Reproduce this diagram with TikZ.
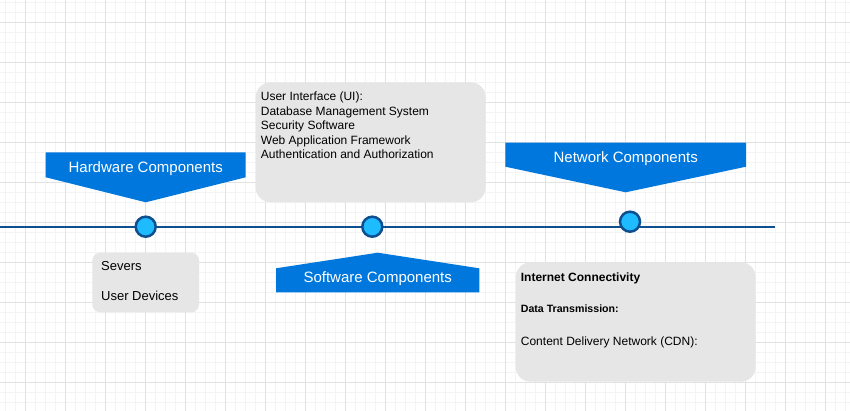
\documentclass[tikz,border=0pt]{standalone}
\usepackage{fontspec}
\setmainfont{Liberation Sans}
\definecolor{gridmajor}{HTML}{E2E2E2}
\definecolor{gridminor}{HTML}{F4F4F4}
\definecolor{lineblue}{HTML}{0F4F8F}
\definecolor{dotfill}{HTML}{1EBBFF}
\definecolor{calloutblue}{HTML}{0077DD}
\definecolor{boxgrey}{HTML}{E6E6E6}
\tikzset{
  minorline/.style={gridminor,line width=0.8pt},
  majorline/.style={gridmajor,line width=0.9pt},
  timeline/.style={lineblue,line width=2pt},
  dot/.style={circle,fill=dotfill,draw=lineblue,line width=2.5pt,minimum size=20pt,inner sep=0pt},
  callout/.style={fill=calloutblue},
  callouttext/.style={text=white,font=\fontsize{15}{18}\selectfont,inner sep=0pt,anchor=base},
  greybox/.style={fill=boxgrey,draw=none,inner sep=0pt},
  itemtext/.style={inner sep=0pt,anchor=base west,text=black},
}
\begin{document}
\begin{tikzpicture}[x=1pt,y=-1pt]
\useasboundingbox (0,0) rectangle (850,411);
\fill[white] (0,0) rectangle (850,411);
% grid
\foreach \x in {5.5,15.5,...,845.5} \draw[minorline] (\x,0) -- (\x,411);
\foreach \y in {2,12,...,410} \draw[minorline] (0,\y) -- (850,\y);
\foreach \x in {25.5,65.5,...,825.5} \draw[majorline] (\x,0) -- (\x,411);
\foreach \y in {22,62,...,382} \draw[majorline] (0,\y) -- (850,\y);

% grey boxes
\node[greybox,rounded corners=8pt,minimum width=106.7,minimum height=59.6] (hwbox) at (145.7,282.5) {};
\node[greybox,rounded corners=15pt,minimum width=230,minimum height=120] (swbox) at (370.7,142.3) {};
\node[greybox,rounded corners=15pt,minimum width=240,minimum height=119.4] (netbox) at (635.7,322) {};

% timeline
\coordinate (tlstart) at (0,226.7);
\coordinate (tlend) at (775,226.7);
\draw[timeline] (tlstart) -- (tlend);
\node[dot] (hwdot) at (145.7,226.7) {};
\node[dot] (swdot) at (372.3,226.7) {};
\node[dot] (netdot) at (630,221.7) {};

% callouts
\fill[callout] (45.7,152.3) -- (245.7,152.3) -- (245.7,177.3) -- (145.7,202.3) -- (45.7,177.3) -- cycle;
\node[callouttext] (hwlabel) at (145.7,173) {Hardware Components};
\fill[callout] (276,268.3) -- (377.7,252.7) -- (479.3,268.3) -- (479.3,292.3) -- (276,292.3) -- cycle;
\node[callouttext] (swlabel) at (377.7,282) {Software Components};
\fill[callout] (505.3,142.7) -- (746,142.7) -- (746,166.7) -- (625.7,192.3) -- (505.3,166.7) -- cycle;
\node[callouttext] (netlabel) at (625.7,163) {Network Components};

% hardware items
\begin{scope}[every node/.style={itemtext,font=\fontsize{13}{15}\selectfont}]
\node (hw1) at (101,270.3) {Severs};
\node (hw2) at (101,300.6) {User Devices};
\end{scope}

% software items
\begin{scope}[every node/.style={itemtext,font=\fontsize{12}{14}\selectfont}]
\node (sw1) at (260.7,101) {User Interface (UI):};
\node (sw2) at (260.7,115.5) {Database Management System};
\node (sw3) at (260.7,130) {Security Software};
\node (sw4) at (260.7,144.5) {Web Application Framework};
\node (sw5) at (260.7,159) {Authentication and Authorization};
\end{scope}

% network items
\node[itemtext,font=\fontsize{12}{14}\selectfont\bfseries] (net1) at (520.7,281) {Internet Connectivity};
\node[itemtext,font=\fontsize{10.6}{13}\selectfont\bfseries] (net2) at (520.7,312.1) {Data Transmission:};
\node[itemtext,font=\fontsize{12}{14}\selectfont] (net3) at (520.7,345.3) {Content Delivery Network (CDN):};
\end{tikzpicture}
\end{document}
